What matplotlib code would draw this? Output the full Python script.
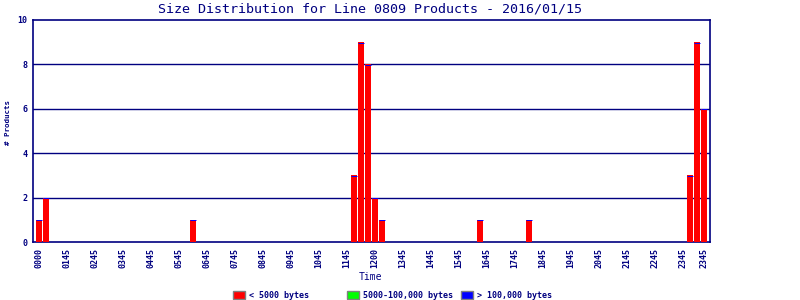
import numpy as np
import matplotlib.pyplot as plt
from matplotlib.patches import Rectangle

NAVY = "#000080"
MONO = "DejaVu Sans Mono"

# 15-minute bins across the day (96 bins)
bin_index = np.arange(96)
# product counts per bin, by size class
small_counts = np.zeros(96)
small_counts[[0, 1, 22, 45, 46, 47, 48, 49, 63, 70, 93, 94, 95]] = [1, 2, 1, 3, 9, 8, 2, 1, 1, 1, 3, 9, 6]
medium_counts = np.zeros(96)
large_counts = np.zeros(96)

tick_bins = list(range(0, 96, 4)) + [95]
tick_labels = (["0000"] + ["%02d45" % h for h in range(1, 12)] + ["1200"]
               + ["%02d45" % h for h in range(13, 24)] + ["2345"])

series_names = ["< 5000 bytes", "5000-100,000 bytes", "> 100,000 bytes"]
series_colors = ["#ff0000", "#00ff00", "#0000ff"]

fig = plt.figure(figsize=(8, 3), dpi=100)
ax = fig.add_axes([33 / 800, 1 - 242 / 300, 677 / 800, 222 / 300])

w = 6 / 7
ax.bar(bin_index, small_counts, width=w, color=series_colors[0], zorder=3)
ax.bar(bin_index, medium_counts, width=w, bottom=small_counts, color=series_colors[1], zorder=3)
ax.bar(bin_index, large_counts, width=w, bottom=small_counts + medium_counts,
       color=series_colors[2], zorder=3)
# thin blue cap on top of each non-empty bar
tot = small_counts + medium_counts + large_counts
nz = tot > 0
ax.hlines(tot[nz] - 0.02, bin_index[nz] - w / 2, bin_index[nz] + w / 2,
          color="#0000ff", lw=0.7, zorder=4)

ax.set_xlim(-0.86, 95.86)
ax.set_ylim(0, 10)
ax.set_yticks([0, 2, 4, 6, 8, 10])
ax.set_yticklabels(["0", "2", "4", "6", "8", "10"], fontsize=6, family=MONO,
                   color=NAVY, fontweight="bold")
for y in [2, 4, 6, 8]:
    ax.axhline(y, color=NAVY, lw=1.0, zorder=1)
ax.set_xticks(tick_bins)
ax.set_xticklabels(tick_labels, rotation=90, fontsize=6, family=MONO,
                   color=NAVY, fontweight="bold")
ax.tick_params(axis="both", length=0, pad=4)
for s in ax.spines.values():
    s.set_color(NAVY)
    s.set_linewidth(1.2)

fig.text(370 / 800, 1 - 9 / 300, "Size Distribution for Line 0809 Products - 2016/01/15",
         ha="center", va="center", fontsize=9.6, family=MONO, color=NAVY)
fig.text(370 / 800, 1 - 277 / 300, "Time", ha="center", va="center",
         fontsize=7, family=MONO, color=NAVY)
fig.text(8 / 800, 1 - 123 / 300, "# Products", ha="center", va="center",
         rotation=90, fontsize=5.4, family=MONO, color=NAVY, fontweight="bold")

# legend
box_x = [233, 347, 461]
for bx, name, col in zip(box_x, series_names, series_colors):
    fig.patches.append(Rectangle((bx / 800, 1 - 299 / 300), 12 / 800, 8 / 300,
                                 transform=fig.transFigure, facecolor=col,
                                 edgecolor="#808080", lw=1.0))
    fig.text((bx + 16) / 800, 1 - 295 / 300, name, ha="left", va="center",
             fontsize=6, family=MONO, color=NAVY, fontweight="bold")

fig.savefig("out.png", dpi=100)
